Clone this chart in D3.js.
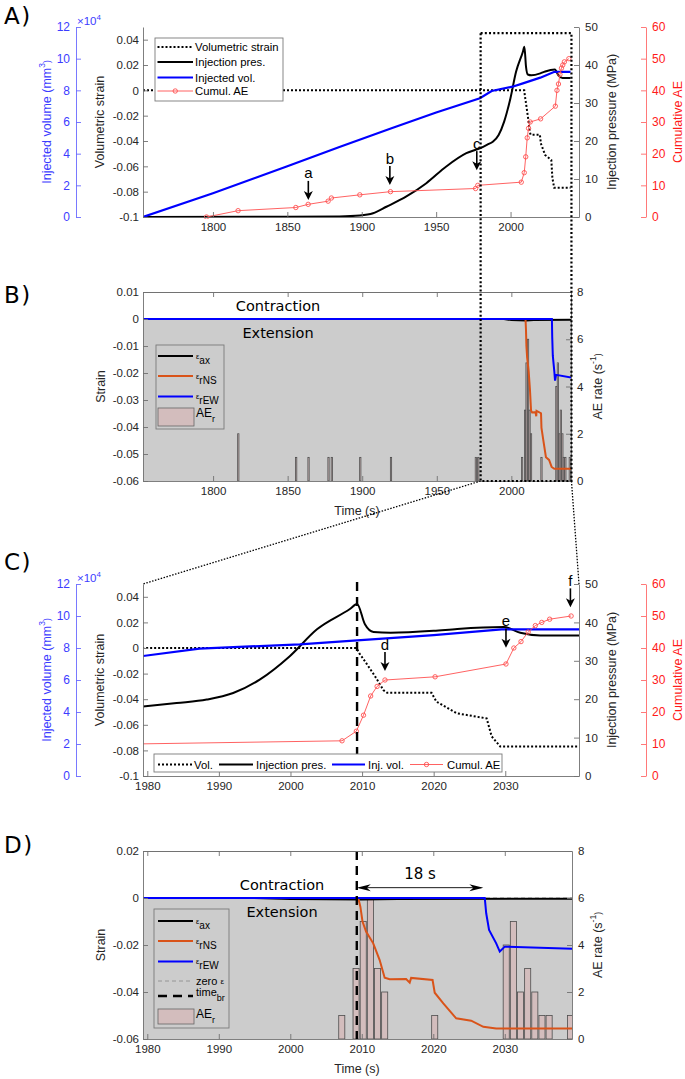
<!DOCTYPE html>
<html><head><meta charset="utf-8">
<script src="https://cdn.jsdelivr.net/npm/d3@7"></script>
<style>body{margin:0;background:#fff}svg{display:block}</style>
</head><body>
<svg id="c" width="685" height="1079"></svg>
<script>
// ---------------- DATA ----------------
// [time (s), value]
const injPressure = [[1753,0],[1850,0.05],[1885,0.15],[1898.7,0.4],[1907.6,1.0],[1916.6,2.7],[1930,5.4],[1943.4,8.9],[1956.8,13.3],[1970.3,16.8],[1979.4,18.1],[1984.1,19.0],[1988.3,19.9],[1992,21.6],[1995.7,25.1],[1999.9,31.2],[2003.7,38.2],[2008.3,43.5],[2009.3,44.8],[2010.4,39.5],[2011.6,37.5],[2014,37.3],[2020,37.8],[2023.3,38.3],[2029.8,38.8],[2032.1,37.3],[2034.9,36.6],[2040.3,36.6]];
const injVolume = [[1753,0],[1800,15000],[1850,32000],[1885,44200],[1920,56000],[1950,66000],[1979.4,75000],[1987.3,79600],[2001.3,82300],[2008.3,84400],[2020,88000],[2029.5,91700],[2040.3,91700]];
const volStrain = [[1753,0],[2009.2,0],[2009.6,-0.004],[2010.6,-0.012],[2011.8,-0.022],[2013,-0.033],[2013.5,-0.035],[2019.7,-0.035],[2020.4,-0.042],[2023.2,-0.051],[2027.4,-0.055],[2028.1,-0.069],[2029.3,-0.077],[2040.3,-0.077]];
const cumulAE = [[1795.7,0],[1816.9,2],[1855.7,3],[1864,4],[1877.4,5],[1879.6,6],[1898.7,7],[1919.3,8],[1976.5,9],[1978,10],[2007.2,11],[2009.2,14],[2010.2,19],[2011.2,25],[2012.1,28],[2013.2,30],[2020.2,31],[2030.1,35],[2031.2,40],[2032.2,42],[2033.2,45],[2034.2,47],[2035.1,48],[2036.2,49],[2039.2,50]];
const aeRate = [[1816.9,2],[1855.7,1],[1864,1],[1877.4,1],[1879.6,1],[1898.7,1],[1919.3,1],[1976.2,1],[1977.8,1],[2007.2,1],[2009.2,3],[2010.2,5],[2011.2,6],[2012.2,3],[2013.2,2],[2020.2,1],[2030.2,4],[2031.2,5],[2032.2,2],[2033.2,3],[2034.2,2],[2035.2,1],[2036.2,1],[2039.2,1]];
const epsAx = [[1753,0],[1995,0],[2000,-0.0004],[2010,-0.0006],[2015,-0.0004],[2040.3,-0.0003]];
const epsRNS = [[1753,0],[2009.5,0],[2009.8,-0.0037],[2010.1,-0.010],[2010.6,-0.0143],[2011.6,-0.0193],[2012.5,-0.0264],[2013.2,-0.0339],[2013.9,-0.0346],[2016.2,-0.0345],[2016.7,-0.036],[2016.9,-0.034],[2019.9,-0.0349],[2020.2,-0.0403],[2021.4,-0.0448],[2023.2,-0.0512],[2025.3,-0.0522],[2027,-0.0548],[2028.8,-0.0555],[2040.3,-0.0555]];
const epsREW = [[1753,0],[2027.2,0],[2027.4,-0.0065],[2027.8,-0.0136],[2028.8,-0.0193],[2029.3,-0.0228],[2030,-0.0207],[2040.3,-0.0217]];
const timeBreak = 2009.3;
const arrowTo = 2027;       // end of "18 s" arrow
const annA = [{label:'a', t:1864.1, ae:5.4}, {label:'b', t:1918.9, ae:10.1}, {label:'c', t:1977.3, ae:14.8}];
const annC = [{label:'d', t:2013.2, ae:32.8}, {label:'e', t:2030.1, ae:40.1}, {label:'f', t:2039.1, ae:52.7}];
const ticksTimeA = [1800,1850,1900,1950,2000];
const ticksTimeC = [1980,1990,2000,2010,2020,2030];
const ticksStrainA = [-0.1,-0.08,-0.06,-0.04,-0.02,0,0.02,0.04];
const ticksStrainB = [-0.06,-0.05,-0.04,-0.03,-0.02,-0.01,0,0.01];
const ticksStrainD = [-0.06,-0.04,-0.02,0,0.02];
const ticksPres = [0,10,20,30,40,50];
const ticksVol = [0,20000,40000,60000,80000,100000,120000];
const ticksAE = [0,10,20,30,40,50,60];
const ticksRate = [0,2,4,6,8];

// ---------------- STYLE ----------------
const svg = d3.select('#c');
const FONT = '"Liberation Sans", Arial, Helvetica, sans-serif';
const FONT2 = '"DejaVu Sans", sans-serif';
const TXT = '#262626', AXC = '#707070';
const BLUE = '#0000ff', BLUET = '#3c3cff', REDL = '#ff5050', REDT = '#ff1a1a', ORANGE = '#d95319';
const GRAYBG = '#cccccc', BARF = '#d3bdbd', BARE = '#4d4d4d';
const L = 143;
svg.append('rect').attr('width',685).attr('height',1079).attr('fill','#fff');

const fmtS = d => d === 0 ? '0' : String(+d.toFixed(2));
function styleAxis(g, lineColor, textColor, fs) {
  g.attr('font-family', FONT).attr('font-size', fs || 11.5);
  g.select('.domain').attr('stroke', lineColor).attr('stroke-width', 0.9);
  g.selectAll('.tick line').attr('stroke', lineColor).attr('stroke-width', 0.9);
  g.selectAll('.tick text').attr('fill', textColor);
}
function vlabel(x, y, txt, color, parts) {
  const t = svg.append('text').attr('transform', `translate(${x},${y}) rotate(-90)`)
    .attr('text-anchor','middle').attr('dominant-baseline','central')
    .attr('font-family', FONT).attr('font-size', 12.5).attr('fill', color);
  if (parts) parts.forEach(p => { const s = t.append('tspan').text(p[0]); if (p[1]) s.attr('font-size', 8.5).attr('dy', p[1]); });
  else t.text(txt);
  return t;
}
function downArrow(g, x, yTip, label) {
  g.append('line').attr('x1',x).attr('x2',x).attr('y1',yTip-19).attr('y2',yTip-6).attr('stroke','#000').attr('stroke-width',1.6);
  g.append('path').attr('d',`M${x-4.5},${yTip-9}L${x},${yTip-6.5}L${x+4.5},${yTip-9}L${x},${yTip}Z`).attr('fill','#000');
  g.append('text').attr('x',x).attr('y',yTip-27).attr('text-anchor','middle').attr('dominant-baseline','central')
    .attr('font-family',FONT).attr('font-size',15).attr('fill','#000').text(label);
}

// ---------------- INJECTION PANELS (A, C) ----------------
function drawInjection(o) {
  const R = o.R;
  const x = d3.scaleLinear().domain(o.xDomain).range([L, R]);
  const yS = d3.scaleLinear().domain([-0.1, 0.05]).range([o.bottom, o.top]);
  const yP = d3.scaleLinear().domain([0, 50]).range([o.bottom, o.top]);
  const yV = d3.scaleLinear().domain([0, 120000]).range([o.bottom, o.top]);
  const yA = d3.scaleLinear().domain([0, 60]).range([o.bottom, o.top]);
  const g = svg.append('g');
  const cid = o.id + 'clip';
  svg.append('clipPath').attr('id', cid).append('rect').attr('x', L).attr('y', o.top - 4).attr('width', R - L).attr('height', o.bottom - o.top + 6);
  const p = g.append('g').attr('clip-path', `url(#${cid})`);
  p.append('path').datum(volStrain).attr('d', d3.line().x(d=>x(d[0])).y(d=>yS(d[1])))
    .attr('fill','none').attr('stroke','#000').attr('stroke-width',2).attr('stroke-dasharray','2,2');
  p.append('path').datum(injPressure).attr('d', d3.line().curve(d3.curveMonotoneX).x(d=>x(d[0])).y(d=>yP(d[1])))
    .attr('fill','none').attr('stroke','#000').attr('stroke-width',2);
  p.append('path').datum(injVolume).attr('d', d3.line().x(d=>x(d[0])).y(d=>yV(d[1])))
    .attr('fill','none').attr('stroke',BLUE).attr('stroke-width',2.2);
  p.append('path').datum(cumulAE).attr('d', d3.line().x(d=>x(d[0])).y(d=>yA(d[1])))
    .attr('fill','none').attr('stroke',REDL).attr('stroke-width',0.9);
  p.selectAll('circle.ae').data(cumulAE).join('circle').attr('class','ae')
    .attr('cx', d=>x(d[0])).attr('cy', d=>yA(d[1])).attr('r', 2.2)
    .attr('fill','none').attr('stroke',REDL).attr('stroke-width',0.9);
  if (o.timeBr) {
    g.append('line').attr('x1',x(timeBreak)).attr('x2',x(timeBreak)).attr('y1',o.top-2).attr('y2',o.bottom)
      .attr('stroke','#000').attr('stroke-width',2.4).attr('stroke-dasharray','9,6');
  }
  // axes
  styleAxis(g.append('g').attr('transform',`translate(${L},0)`).call(d3.axisLeft(yS).tickValues(ticksStrainA).tickFormat(fmtS).tickSize(-5).tickSizeOuter(0).tickPadding(4)), AXC, TXT);
  styleAxis(g.append('g').attr('transform',`translate(0,${o.bottom})`).call(d3.axisBottom(x).tickValues(o.xticks).tickFormat(d3.format('d')).tickSize(-5).tickSizeOuter(0).tickPadding(6)), AXC, TXT);
  styleAxis(g.append('g').attr('transform',`translate(${R},0)`).call(d3.axisRight(yP).tickValues(ticksPres).tickSize(-5).tickSizeOuter(0).tickPadding(6)), AXC, TXT);
  styleAxis(g.append('g').attr('transform',`translate(76,0)`).call(d3.axisLeft(yV).tickValues(ticksVol).tickFormat(d=>d/10000).tickSize(-5).tickSizeOuter(0).tickPadding(6)), '#6a6aff', BLUET, 12);
  styleAxis(g.append('g').attr('transform',`translate(646,0)`).call(d3.axisRight(yA).tickValues(ticksAE).tickSize(-5).tickSizeOuter(0).tickPadding(6)), '#ff6a6a', REDT, 12);
  const ex = g.append('text').attr('x',77).attr('y',o.top-2).attr('font-family',FONT).attr('font-size',11.5).attr('fill',BLUET);
  ex.append('tspan').text('×10'); ex.append('tspan').text('4').attr('font-size',8).attr('dy',-5);
  const cy = (o.top + o.bottom) / 2;
  vlabel(100, cy, 'Volumetric strain', TXT);
  vlabel(47, cy, null, BLUET, [['Injected volume (mm'],['3',-5],[')',5]]);
  vlabel(612, cy, 'Injection pressure (MPa)', TXT);
  vlabel(678, cy, 'Cumulative AE', REDT);
  // annotations
  o.ann.forEach(a => downArrow(g, x(a.t), yA(a.ae), a.label));
  return {x, yP};
}

function legendEntry(g, kind, x1, x2, y) {
  if (kind === 'dot') g.append('line').attr('x1',x1).attr('x2',x2).attr('y1',y).attr('y2',y).attr('stroke','#000').attr('stroke-width',2).attr('stroke-dasharray','2,2');
  if (kind === 'pres') g.append('line').attr('x1',x1).attr('x2',x2).attr('y1',y).attr('y2',y).attr('stroke','#000').attr('stroke-width',2);
  if (kind === 'vol') g.append('line').attr('x1',x1).attr('x2',x2).attr('y1',y).attr('y2',y).attr('stroke',BLUE).attr('stroke-width',2.2);
  if (kind === 'ae') {
    g.append('line').attr('x1',x1).attr('x2',x2).attr('y1',y).attr('y2',y).attr('stroke',REDL).attr('stroke-width',0.9);
    g.append('circle').attr('cx',(x1+x2)/2).attr('cy',y).attr('r',2.2).attr('fill','none').attr('stroke',REDL).attr('stroke-width',0.9);
  }
}
function legText(g, x, y, t, fs) {
  g.append('text').attr('x',x).attr('y',y).attr('dominant-baseline','central').attr('font-family',FONT).attr('font-size',fs||11.3).attr('fill','#000').text(t);
}

const A = drawInjection({id:'A', xDomain:[1753,2046], R:579, top:27, bottom:217, xticks:ticksTimeA, ann:annA});
// legend A
{
  const g = svg.append('g');
  g.append('rect').attr('x',155).attr('y',38).attr('width',128).attr('height',63).attr('fill','#fff').attr('stroke','#7a7a7a').attr('stroke-width',0.9);
  const items = [['dot','Volumetric strain',47],['pres','Injection pres.',62],['vol','Injected vol.',77.5],['ae','Cumul. AE',91]];
  items.forEach(it => { legendEntry(g, it[0], 157.5, 193, it[2]); legText(g, 195, it[2], it[1]); });
}
const C = drawInjection({id:'C', xDomain:[1979.4,2040.3], R:579, top:584, bottom:776, xticks:ticksTimeC, ann:annC, timeBr:true});
// legend C
{
  const g = svg.append('g');
  g.append('rect').attr('x',154).attr('y',754).attr('width',348).attr('height',18).attr('fill','#fff').attr('stroke','#7a7a7a').attr('stroke-width',0.9);
  const yy = 764.5;
  [['dot','Vol.',158,192,194],['pres','Injection pres.',219,253,256],['vol','Inj. vol.',332,365,368],['ae','Cumul. AE',410,443,447]]
    .forEach(it => { legendEntry(g, it[0], it[2], it[3], yy); legText(g, it[4], yy, it[1]); });
}

// ---------------- STRAIN PANELS (B, D) ----------------
function epsLabel(g, x, y, sub) {
  const t = g.append('text').attr('x',x).attr('y',y+2.5).attr('font-family',FONT).attr('fill','#000');
  t.append('tspan').text('ε').attr('font-size',7.5);
  t.append('tspan').text(sub).attr('font-size',10).attr('dy',5);
}
function drawStrain(o) {
  const R = o.R;
  const x = d3.scaleLinear().domain(o.xDomain).range([L, R]);
  const yS = d3.scaleLinear().domain(o.yDomain).range([o.bottom, o.top]);
  const yR = d3.scaleLinear().domain([0, 8]).range([o.bottom, o.top]);
  const g = svg.append('g');
  const cid = o.id + 'clip';
  svg.append('clipPath').attr('id', cid).append('rect').attr('x', L).attr('y', o.top).attr('width', R - L).attr('height', o.bottom - o.top);
  const p = g.append('g').attr('clip-path', `url(#${cid})`);
  p.append('rect').attr('x',L).attr('width',R-L).attr('y',yS(0)).attr('height',o.bottom-yS(0)).attr('fill',GRAYBG);
  p.selectAll('rect.bar').data(aeRate).join('rect').attr('class','bar')
    .attr('x', d=>x(d[0]-0.425)).attr('width', d=>x(d[0]+0.425)-x(d[0]-0.425))
    .attr('y', d=>yR(d[1])).attr('height', d=>o.bottom - yR(d[1]))
    .attr('fill',BARF).attr('stroke',BARE).attr('stroke-width',0.8);
  if (o.zero) p.append('line').attr('x1',L).attr('x2',R).attr('y1',yS(0)).attr('y2',yS(0)).attr('stroke','#888').attr('stroke-width',0.8).attr('stroke-dasharray','4,3');
  const ln = d3.line().x(d=>x(d[0])).y(d=>yS(d[1]));
  p.append('path').datum(epsAx).attr('d',ln).attr('fill','none').attr('stroke','#000').attr('stroke-width',2);
  p.append('path').datum(epsRNS).attr('d',ln).attr('fill','none').attr('stroke',ORANGE).attr('stroke-width',2);
  p.append('path').datum(epsREW).attr('d',ln).attr('fill','none').attr('stroke',BLUE).attr('stroke-width',2);
  if (o.timeBr) {
    g.append('line').attr('x1',x(timeBreak)).attr('x2',x(timeBreak)).attr('y1',o.top).attr('y2',o.bottom)
      .attr('stroke','#000').attr('stroke-width',2.4).attr('stroke-dasharray','9,6');
    // 18 s arrow
    const ya = yS(0.0044), x1 = x(timeBreak), x2 = x(arrowTo);
    g.append('line').attr('x1',x1+2).attr('x2',x2-2).attr('y1',ya).attr('y2',ya).attr('stroke','#000').attr('stroke-width',0.9);
    g.append('path').attr('d',`M${x1},${ya}L${x1+14},${ya-3.5}L${x1+10},${ya}L${x1+14},${ya+3.5}Z`).attr('fill','#000');
    g.append('path').attr('d',`M${x2},${ya}L${x2-14},${ya-3.5}L${x2-10},${ya}L${x2-14},${ya+3.5}Z`).attr('fill','#000');
    g.append('text').attr('x',(x1+x2)/2).attr('y',ya-9).attr('text-anchor','middle').attr('font-family',FONT2).attr('font-size',15).attr('fill','#000').text('18 s');
  }
  // box & axes
  g.append('line').attr('x1',L).attr('x2',R).attr('y1',o.top+0.5).attr('y2',o.top+0.5).attr('stroke',AXC).attr('stroke-width',0.9);
  styleAxis(g.append('g').attr('transform',`translate(0,${o.top})`).call(d3.axisTop(x).tickValues(o.xticks).tickFormat('').tickSize(-5).tickSizeOuter(0)), AXC, TXT);
  styleAxis(g.append('g').attr('transform',`translate(${L},0)`).call(d3.axisLeft(yS).tickValues(o.yticks).tickFormat(fmtS).tickSize(-5).tickSizeOuter(0).tickPadding(4)), AXC, TXT);
  styleAxis(g.append('g').attr('transform',`translate(0,${o.bottom})`).call(d3.axisBottom(x).tickValues(o.xticks).tickFormat(d3.format('d')).tickSize(-5).tickSizeOuter(0).tickPadding(6)), AXC, TXT);
  styleAxis(g.append('g').attr('transform',`translate(${R},0)`).call(d3.axisRight(yR).tickValues(ticksRate).tickSize(-5).tickSizeOuter(0).tickPadding(6)), AXC, TXT);
  const cy = (o.top + o.bottom) / 2;
  vlabel(101, cy, 'Strain', TXT);
  vlabel(598, cy, null, TXT, [['AE rate (s'],['-1',-5],[')',5]]);
  g.append('text').attr('x',357).attr('y',o.bottom+30).attr('text-anchor','middle').attr('dominant-baseline','central')
    .attr('font-family',FONT).attr('font-size',12.5).attr('fill',TXT).text('Time (s)');
  g.append('text').attr('x',o.cx).attr('y',yS(0)-13).attr('text-anchor','middle').attr('dominant-baseline','central')
    .attr('font-family',FONT2).attr('font-size',14.5).attr('fill','#000').text('Contraction');
  g.append('text').attr('x',o.cx).attr('y',yS(0)+14).attr('text-anchor','middle').attr('dominant-baseline','central')
    .attr('font-family',FONT2).attr('font-size',14.5).attr('fill','#000').text('Extension');
  // legend
  const lg = g.append('g');
  lg.append('rect').attr('x',o.leg.x).attr('y',o.leg.y).attr('width',o.leg.w).attr('height',o.leg.h).attr('fill','none').attr('stroke','#7a7a7a').attr('stroke-width',0.9);
  o.leg.items.forEach(it => {
    if (it.k === 'ax' || it.k === 'rNS' || it.k === 'rEW') {
      lg.append('line').attr('x1',158).attr('x2',193).attr('y1',it.y).attr('y2',it.y).attr('stroke', it.k==='ax'?'#000':(it.k==='rNS'?ORANGE:BLUE)).attr('stroke-width',2);
      epsLabel(lg, 196, it.y, it.k);
    } else if (it.k === 'zero') {
      lg.append('line').attr('x1',158).attr('x2',193).attr('y1',it.y).attr('y2',it.y).attr('stroke','#888').attr('stroke-width',0.8).attr('stroke-dasharray','4,3');
      const t = lg.append('text').attr('x',196).attr('y',it.y).attr('dominant-baseline','central').attr('font-family',FONT).attr('font-size',11).attr('fill','#000');
      t.append('tspan').text('zero '); t.append('tspan').text('ε').attr('font-size',8);
    } else if (it.k === 'br') {
      lg.append('line').attr('x1',158).attr('x2',193).attr('y1',it.y).attr('y2',it.y).attr('stroke','#000').attr('stroke-width',2.4).attr('stroke-dasharray','9,6');
      const t = lg.append('text').attr('x',196).attr('y',it.y).attr('font-family',FONT).attr('font-size',11).attr('fill','#000');
      t.append('tspan').text('time'); t.append('tspan').text('br').attr('font-size',9).attr('dy',5);
    } else if (it.k === 'ae') {
      lg.append('rect').attr('x',158).attr('y',it.y).attr('width',36).attr('height',it.h).attr('fill',BARF).attr('stroke','#666').attr('stroke-width',0.8);
      const t = lg.append('text').attr('x',196).attr('y',it.y+9).attr('font-family',FONT).attr('font-size',12).attr('fill','#000');
      t.append('tspan').text('AE'); t.append('tspan').text('r').attr('font-size',9).attr('dy',5);
    }
  });
  return {x, yS};
}

const B = drawStrain({id:'B', xDomain:[1753,2040], R:571, top:292, bottom:481, yDomain:[-0.06,0.01], yticks:ticksStrainB, xticks:ticksTimeA, cx:278,
  leg:{x:156, y:345, w:68, h:84, items:[{k:'ax',y:356},{k:'rNS',y:376},{k:'rEW',y:396.5},{k:'ae',y:408,h:18}]}});
const D = drawStrain({id:'D', xDomain:[1979.4,2039.4], R:572, top:851, bottom:1039, yDomain:[-0.06,0.02], yticks:ticksStrainD, xticks:ticksTimeC, cx:282, zero:true, timeBr:true,
  leg:{x:154, y:909, w:75, h:119, items:[{k:'ax',y:921},{k:'rNS',y:941},{k:'rEW',y:961.5},{k:'zero',y:981},{k:'br',y:996},{k:'ae',y:1009,h:15}]}});

// ---------------- ZOOM BOX & CONNECTORS ----------------
{
  const t0 = 1979.4, t1 = 2040.3;
  const xl = B.x(t0), xr = B.x(t1), yt = A.yP(48.4), yb = 481;
  const g = svg.append('g').attr('fill','none').attr('stroke','#000');
  g.append('path').attr('d',`M${xl},${yt}H${xr}V${yb}H${xl}Z`).attr('stroke-width',2.2).attr('stroke-dasharray','2,2.2');
  g.append('path').attr('d',`M${xl},${yb}L${L},584`).attr('stroke-width',1.3).attr('stroke-dasharray','1.5,1.5');
  g.append('path').attr('d',`M${xr},${yb}L579,584`).attr('stroke-width',1.3).attr('stroke-dasharray','1.5,1.5');
}

// ---------------- PANEL LABELS ----------------
[['A)',24],['B)',303],['C)',570],['D)',853]].forEach(d => {
  svg.append('text').attr('x',4).attr('y',d[1]).attr('font-family',FONT2).attr('font-size',23).attr('letter-spacing',1.5).attr('fill','#000').text(d[0]);
});
</script>
</body></html>
